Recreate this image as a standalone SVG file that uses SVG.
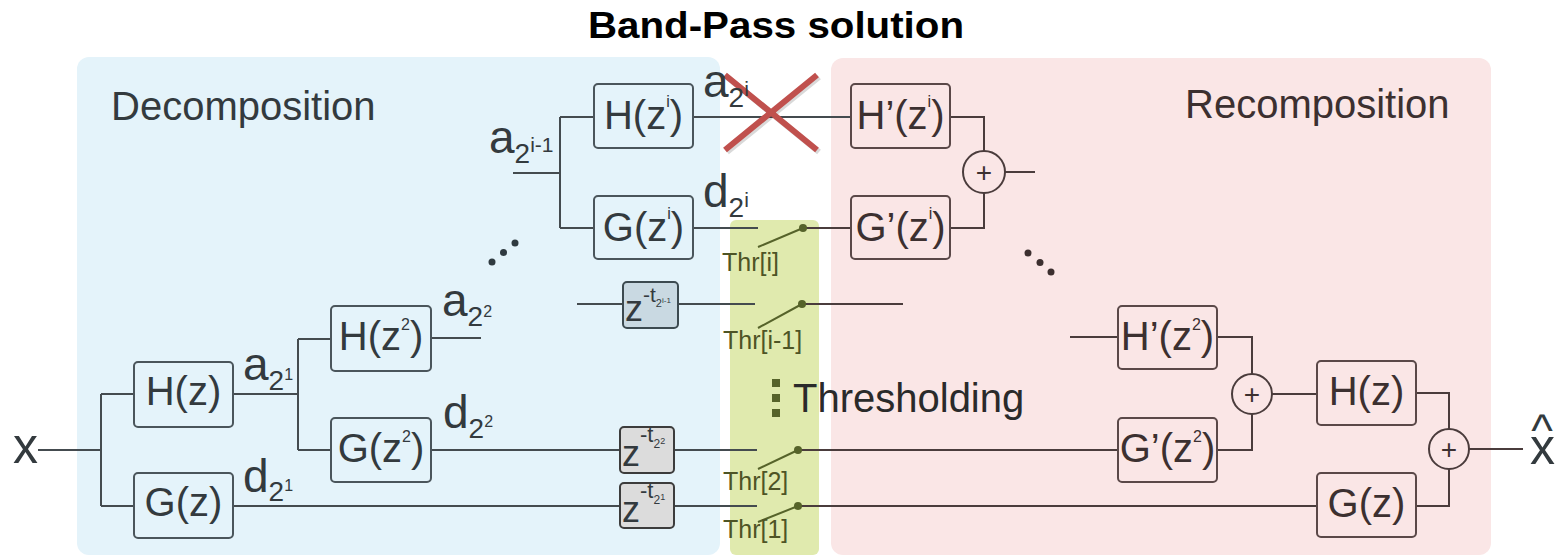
<svg xmlns="http://www.w3.org/2000/svg" width="1566" height="556" viewBox="0 0 1566 556">
<style>
text{font-family:"Liberation Sans",Arial,sans-serif;fill:#333a3e}
.r text,text.r{fill:#3c3030}
.box{fill:none;stroke:#4a555b;stroke-width:2}
.boxr{fill:none;stroke:#5a4848;stroke-width:2}
.zb{fill:#dcdcdc;stroke:#3c3c3c;stroke-width:2}
.zb1{fill:#c9d9e2;stroke:#3c4a50;stroke-width:2}
.ln{fill:none;stroke:#444b4f;stroke-width:2}
.lnr{fill:none;stroke:#4a3c3c;stroke-width:2}
.sw{fill:none;stroke:#56632a;stroke-width:2}
.dot{fill:#56632a}
.bt{font-size:40px;text-anchor:middle}
.lab{font-size:46px}
.thr{font-size:25px;fill:#4e5425}
.plus{font-size:28px;text-anchor:middle}
.ell{fill:#2f3a40}
</style>
<rect width="1566" height="556" fill="#ffffff"/>
<g id="regions">
<rect x="77" y="57" width="643" height="498" rx="12" fill="#e4f3fa"/>
<rect x="730" y="220" width="89" height="335" rx="6" fill="#e0eaae"/>
<rect x="831" y="58" width="660" height="497" rx="12" fill="#fae6e6"/>
</g>
<text x="776" y="38" font-size="36" font-weight="bold" text-anchor="middle" style="fill:#000" textLength="376" lengthAdjust="spacingAndGlyphs">Band-Pass solution</text>
<text x="111" y="120" font-size="40">Decomposition</text>
<text x="1185" y="118" font-size="40" class="r">Recomposition</text>
<text x="793" y="412" font-size="40" style="fill:#2a2a2a">Thresholding</text>
<g id="connectors">
<path class="ln" d="M38 450H101M101 394V506M101 394H134M101 506H134"/>
<path class="ln" d="M233 394H298M298 339V450M298 339H331M298 450H331"/>
<path class="ln" d="M431 338H481"/>
<path class="ln" d="M431 450H620M674 450H757"/>
<path class="lnr" d="M798 450H1118"/>
<path class="ln" d="M233 506H620M674 506H757"/>
<path class="lnr" d="M798 506H1317"/>
<path class="ln" d="M513 173H560M560 117V228M560 117H594M560 228H594"/>
<path class="ln" d="M693 117H851"/>
<path class="ln" d="M693 228H758"/>
<path class="lnr" d="M803 228H851"/>
<path class="ln" d="M577 304H623M678 304H755"/>
<path class="lnr" d="M802 304H903"/>
<path class="lnr" d="M950 117H984V151M950 228H984V193M1005 172H1035"/>
<path class="lnr" d="M1070 337H1118M1217 337H1252V374M1217 450H1252V414M1272 394H1317"/>
<path class="lnr" d="M1416 393H1449V429M1416 506H1449V469M1469 449H1523"/>
<path class="sw" d="M758 247L803 228M758 328L802 304M758 469L798 450M758 522L798 506"/>
<circle class="dot" cx="803" cy="228" r="4"/>
<circle class="dot" cx="802" cy="304" r="4"/>
<circle class="dot" cx="798" cy="450" r="4"/>
<circle class="dot" cx="798" cy="506" r="4"/>
</g>
<g id="cross">
<path d="M727 77L819 152M819 77L727 152" stroke="#000" stroke-opacity="0.15" stroke-width="6" fill="none"/>
<path d="M725 75L817 150M817 75L725 150" stroke="#c0504d" stroke-width="6" fill="none"/>
</g>
<g id="in-x"><text x="13" y="463" font-size="50">x</text></g>
<g id="H-z"><rect class="box" x="134" y="362" width="99" height="65" rx="4"/><text class="bt" x="183.5" y="405">H(z)</text></g>
<g id="G-z"><rect class="box" x="134" y="473" width="99" height="65" rx="4"/><text class="bt" x="183.5" y="516">G(z)</text></g>
<g id="H-z2"><rect class="box" x="331" y="306" width="100" height="65" rx="4"/><text class="bt" x="381" y="350">H(z<tspan font-size="16" dy="-20">2</tspan><tspan dy="20">)</tspan></text></g>
<g id="G-z2"><rect class="box" x="331" y="418" width="100" height="64" rx="4"/><text class="bt" x="381" y="462">G(z<tspan font-size="16" dy="-20">2</tspan><tspan dy="20">)</tspan></text></g>
<g id="H-zi"><rect class="box" x="594" y="84" width="99" height="64" rx="4"/><text class="bt" x="643.5" y="129">H(z<tspan font-size="16" dy="-22">i</tspan><tspan dy="22">)</tspan></text></g>
<g id="G-zi"><rect class="box" x="594" y="196" width="99" height="63" rx="4"/><text class="bt" x="643.5" y="241">G(z<tspan font-size="16" dy="-22">i</tspan><tspan dy="22">)</tspan></text></g>
<g id="delay-i1"><rect class="zb1" x="623" y="282" width="55" height="46" rx="4"/><text x="625" y="321" font-size="36">z<tspan font-size="21" dy="-19">-t</tspan><tspan font-size="11" dy="5">2</tspan><tspan font-size="8" dy="-4">i-1</tspan></text></g>
<g id="delay-2"><rect class="zb" x="620" y="427" width="54" height="46" rx="4"/><text x="622" y="466" font-size="36">z<tspan font-size="22" dy="-24">-t</tspan><tspan font-size="12" dy="6">2</tspan><tspan font-size="9" dy="-4">2</tspan></text></g>
<g id="delay-1"><rect class="zb" x="620" y="483" width="54" height="45" rx="4"/><text x="622" y="522" font-size="36">z<tspan font-size="22" dy="-24">-t</tspan><tspan font-size="12" dy="6">2</tspan><tspan font-size="9" dy="-4">1</tspan></text></g>
<g id="labels">
<text class="lab" x="243" y="380">a<tspan font-size="28" dy="10">2</tspan><tspan font-size="16" dy="-10">1</tspan></text>
<text class="lab" x="442" y="316">a<tspan font-size="28" dy="10">2</tspan><tspan font-size="16" dy="-9">2</tspan></text>
<text class="lab" x="443" y="428">d<tspan font-size="28" dy="10">2</tspan><tspan font-size="16" dy="-11">2</tspan></text>
<text class="lab" x="243" y="492">d<tspan font-size="28" dy="9">2</tspan><tspan font-size="16" dy="-10">1</tspan></text>
<text class="lab" x="489" y="153">a<tspan font-size="28" dy="10">2</tspan><tspan font-size="21" dy="-11">i-1</tspan></text>
<text class="lab" x="703" y="97">a<tspan font-size="28" dy="10">2</tspan><tspan font-size="21" dy="-11">i</tspan></text>
<text class="lab" x="703" y="207">d<tspan font-size="28" dy="10">2</tspan><tspan font-size="21" dy="-10">i</tspan></text>
</g>
<g id="thresholds">
<text class="thr" x="722" y="271">Thr[i]</text>
<text class="thr" x="723" y="349">Thr[i-1]</text>
<text class="thr" x="723" y="490">Thr[2]</text>
<text class="thr" x="723" y="538">Thr[1]</text>
<rect class="dot" x="772" y="379" width="8" height="8"/>
<rect class="dot" x="772" y="394" width="8" height="8"/>
<rect class="dot" x="772" y="409" width="8" height="8"/>
</g>
<g id="ellipsis-left">
<circle class="ell" cx="492" cy="262" r="3.5"/>
<circle class="ell" cx="503.5" cy="252.5" r="3.5"/>
<circle class="ell" cx="515" cy="243" r="3.5"/>
</g>
<g id="ellipsis-right">
<circle class="ell" cx="1028" cy="253" r="3.5" style="fill:#3c2f2f"/>
<circle class="ell" cx="1040" cy="262.5" r="3.5" style="fill:#3c2f2f"/>
<circle class="ell" cx="1051" cy="272" r="3.5" style="fill:#3c2f2f"/>
</g>
<g class="r">
<g id="Hp-zi"><rect class="boxr" x="851" y="84" width="99" height="64" rx="4"/><text class="bt" x="900.5" y="129">H’(z<tspan font-size="16" dy="-22">i</tspan><tspan dy="22">)</tspan></text></g>
<g id="Gp-zi"><rect class="boxr" x="851" y="196" width="99" height="63" rx="4"/><text class="bt" x="900.5" y="241">G’(z<tspan font-size="16" dy="-22">i</tspan><tspan dy="22">)</tspan></text></g>
<g id="sum-i"><circle cx="984" cy="172" r="21" fill="none" stroke="#4a3c3c" stroke-width="2"/><text class="plus" x="984" y="182">+</text></g>
<g id="Hp-z2"><rect class="boxr" x="1118" y="306" width="99" height="63" rx="4"/><text class="bt" x="1167.5" y="350">H’(z<tspan font-size="16" dy="-20">2</tspan><tspan dy="20">)</tspan></text></g>
<g id="Gp-z2"><rect class="boxr" x="1118" y="418" width="99" height="64" rx="4"/><text class="bt" x="1167.5" y="462">G’(z<tspan font-size="16" dy="-20">2</tspan><tspan dy="20">)</tspan></text></g>
<g id="sum-2"><circle cx="1252" cy="394" r="20" fill="none" stroke="#4a3c3c" stroke-width="2"/><text class="plus" x="1252" y="404">+</text></g>
<g id="H-z-rec"><rect class="boxr" x="1317" y="361" width="99" height="64" rx="4"/><text class="bt" x="1366.5" y="405">H(z)</text></g>
<g id="G-z-rec"><rect class="boxr" x="1317" y="473" width="99" height="64" rx="4"/><text class="bt" x="1366.5" y="517">G(z)</text></g>
<g id="sum-out"><circle cx="1449" cy="449" r="20" fill="none" stroke="#4a3c3c" stroke-width="2"/><text class="plus" x="1449" y="459">+</text></g>
</g>
<g id="out-xhat"><text font-size="50" text-anchor="middle"><tspan x="1542" y="446" font-size="46">^</tspan><tspan x="1542.5" y="464">x</tspan></text></g>
</svg>
